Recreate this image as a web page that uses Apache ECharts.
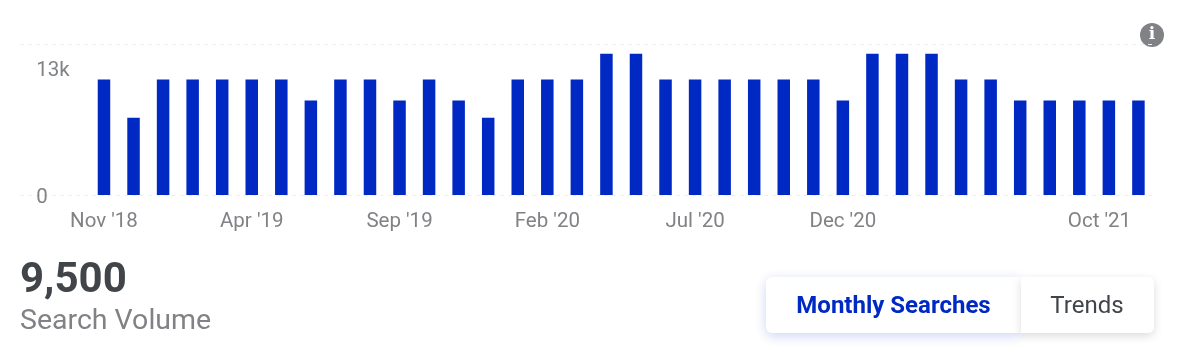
<!DOCTYPE html>
<html><head><meta charset="utf-8">
<style>html,body{margin:0;padding:0;background:#fff}#c{width:1188px;height:361px}</style>
<script src="https://cdn.jsdelivr.net/npm/echarts@6/dist/echarts.min.js"></script>
</head><body><div id="c"></div>
<script>
const months = ["Nov '18","Dec '18","Jan '19","Feb '19","Mar '19","Apr '19","May '19","Jun '19","Jul '19","Aug '19","Sep '19","Oct '19","Nov '19","Dec '19","Jan '20","Feb '20","Mar '20","Apr '20","May '20","Jun '20","Jul '20","Aug '20","Sep '20","Oct '20","Nov '20","Dec '20","Jan '21","Feb '21","Mar '21","Apr '21","May '21","Jun '21","Jul '21","Aug '21","Sep '21","Oct '21"];
const volumes = [12100,8100,12100,12100,12100,12100,12100,9900,12100,12100,9900,12100,9900,8100,12100,12100,12100,14800,14800,12100,12100,12100,12100,12100,12100,9900,14800,14800,14800,12100,12100,9900,9900,9900,9900,9900];
const shownLabels = [0,5,10,15,20,25,35];
const yTicks = [0,13000];
const yMax = 15820;
const FONT = 'Roboto';
const GREY = '#808285', DARK = '#414549', BLUE = '#0029c3';
const chart = echarts.init(document.getElementById('c'), null, {renderer:'canvas'});
chart.setOption({
  animation:false,
  grid:[
    {left:89.2, right:34.8, top:44, height:151},
    {left:20, right:36, top:44, height:151}
  ],
  xAxis:[
    {type:'category', gridIndex:0, data:months,
      axisLine:{show:false}, axisTick:{show:false},
      axisLabel:{
        color:GREY, fontFamily:FONT, fontSize:20.5, margin:16, hideOverlap:false,
        interval:(i)=>shownLabels.includes(i),
        formatter:(v,i)=> i===35 ? '{last|'+v+'}' : v,
        rich:{last:{color:GREY,fontFamily:FONT,fontSize:20.5,padding:[0,78,0,0]}}
      }},
    {type:'category', gridIndex:1, data:[''], show:false}
  ],
  yAxis:[
    {type:'value', gridIndex:0, min:0, max:yMax, interval:yMax,
      axisLine:{show:false}, axisTick:{show:false}, splitLine:{show:false},
      axisLabel:{customValues:yTicks, color:GREY, fontFamily:FONT, fontSize:20.5, align:'left', margin:53,
        verticalAlignMinLabel:'middle',
        formatter:(v)=> v>=1000 ? (v/1000)+'k' : '{zero|'+v+'}',
        rich:{zero:{color:GREY,fontFamily:FONT,fontSize:20.5,padding:[6,0,0,0]}}}},
    {type:'value', gridIndex:1, min:0, max:yMax, interval:yMax,
      axisLine:{show:false}, axisTick:{show:false}, axisLabel:{show:false},
      splitLine:{show:true, lineStyle:{color:'#eef0f5', type:[4,4], width:1}}}
  ],
  series:[
    {type:'bar', xAxisIndex:0, yAxisIndex:0, data:volumes, barWidth:12.5, itemStyle:{color:BLUE}, z:3}
  ],
  graphic:[
    {type:'circle', shape:{cx:1152,cy:35,r:12}, style:{fill:GREY}},
    {type:'text', x:1152, y:35, style:{text:'i', fill:'#fff', font:'900 17px "DejaVu Serif"', align:'center', verticalAlign:'middle'}},
    {type:'text', x:20, y:281, style:{text:'9,500', fill:DARK, font:'bold 42px '+FONT, align:'left', verticalAlign:'middle'}},
    {type:'text', x:20, y:322, style:{text:'Search Volume', fill:GREY, font:'28.5px '+FONT, align:'left', verticalAlign:'middle'}},
    {type:'rect', shape:{x:766,y:277,width:255,height:56,r:[6,0,0,6]}, style:{fill:'#fff', shadowBlur:12, shadowColor:'rgba(0,41,195,0.2)', shadowOffsetY:3}},
    {type:'rect', shape:{x:1021,y:277,width:133,height:56,r:[0,6,6,0]}, style:{fill:'#fff', shadowBlur:10, shadowColor:'rgba(0,0,0,0.14)', shadowOffsetY:3}},
    {type:'text', x:893.5, y:307, style:{text:'Monthly Searches', fill:BLUE, font:'bold 24px '+FONT, align:'center', verticalAlign:'middle'}},
    {type:'text', x:1087, y:307, style:{text:'Trends', fill:DARK, font:'24px '+FONT, align:'center', verticalAlign:'middle'}}
  ]
});
</script></body></html>
